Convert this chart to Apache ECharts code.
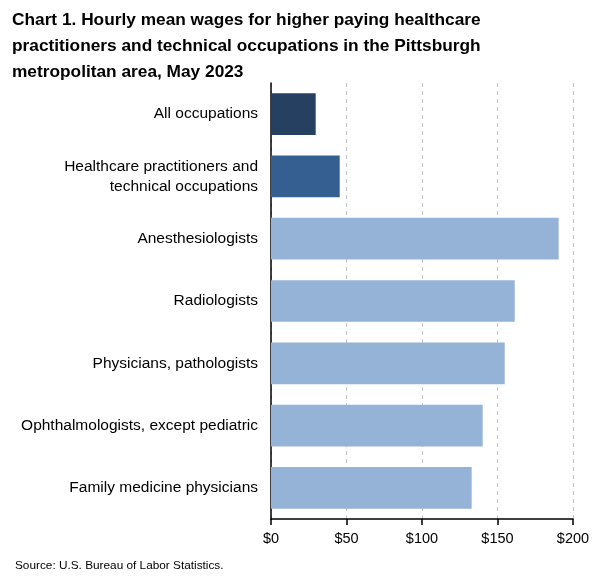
<!DOCTYPE html>
<html>
<head>
<meta charset="utf-8">
<script src="https://cdn.jsdelivr.net/npm/echarts@6/dist/echarts.min.js"></script>
<style>html,body{margin:0;padding:0;background:#fff}#c{width:601px;height:577px}</style>
</head>
<body>
<div id="c"></div>
<script>
var categories = ["All occupations", "Healthcare practitioners and\ntechnical occupations", "Anesthesiologists", "Radiologists", "Physicians, pathologists", "Ophthalmologists, except pediatric", "Family medicine physicians"];
var wages = [29.6, 45.5, 190.5, 161.4, 154.8, 140.2, 132.9];
var barColors = ["#264062", "#365f91", "#95b3d7", "#95b3d7", "#95b3d7", "#95b3d7", "#95b3d7"];
var xTicks = [0, 50, 100, 150, 200];

var chart = echarts.init(document.getElementById('c'));
var font = "'Liberation Sans', Arial, sans-serif";
chart.setOption({
  animation: false,
  title: {
    text: "Chart 1. Hourly mean wages for higher paying healthcare\npractitioners and technical occupations in the Pittsburgh\nmetropolitan area, May 2023",
    left: 12, top: 7, padding: 0,
    textStyle: {fontFamily: font, fontSize: 17.3, fontWeight: 'bold', color: '#000', lineHeight: 26}
  },
  graphic: [{
    type: 'text', left: 15, top: 560,
    style: {text: "Source: U.S. Bureau of Labor Statistics.", font: "11.8px " + font, fill: '#000'}
  }],
  grid: {left: 271, right: 28, top: 83, bottom: 58, containLabel: false},
  xAxis: {
    type: 'value', min: 0, max: 200, interval: 50,
    axisLine: {show: true, lineStyle: {color: '#000', width: 1.5}},
    axisTick: {show: true, length: 6, lineStyle: {color: '#000', width: 1.5}},
    splitLine: {show: true, lineStyle: {color: '#c8c8c8', type: [4, 4], width: 1}},
    axisLabel: {margin: 12, fontFamily: font, fontSize: 14.5, color: '#000',
      formatter: function (v) { return xTicks.indexOf(v) >= 0 ? '$' + v : ''; }}
  },
  yAxis: {
    type: 'category', data: categories, inverse: true,
    axisLine: {show: true, lineStyle: {color: '#000', width: 1.5}},
    axisTick: {show: false},
    axisLabel: {margin: 13, fontFamily: font, fontSize: 15.5, color: '#000', lineHeight: 20}
  },
  series: [{
    type: 'bar', barCategoryGap: '33%',
    data: wages.map(function (v, i) { return {value: v, itemStyle: {color: barColors[i]}}; })
  }]
});
</script>
</body>
</html>
